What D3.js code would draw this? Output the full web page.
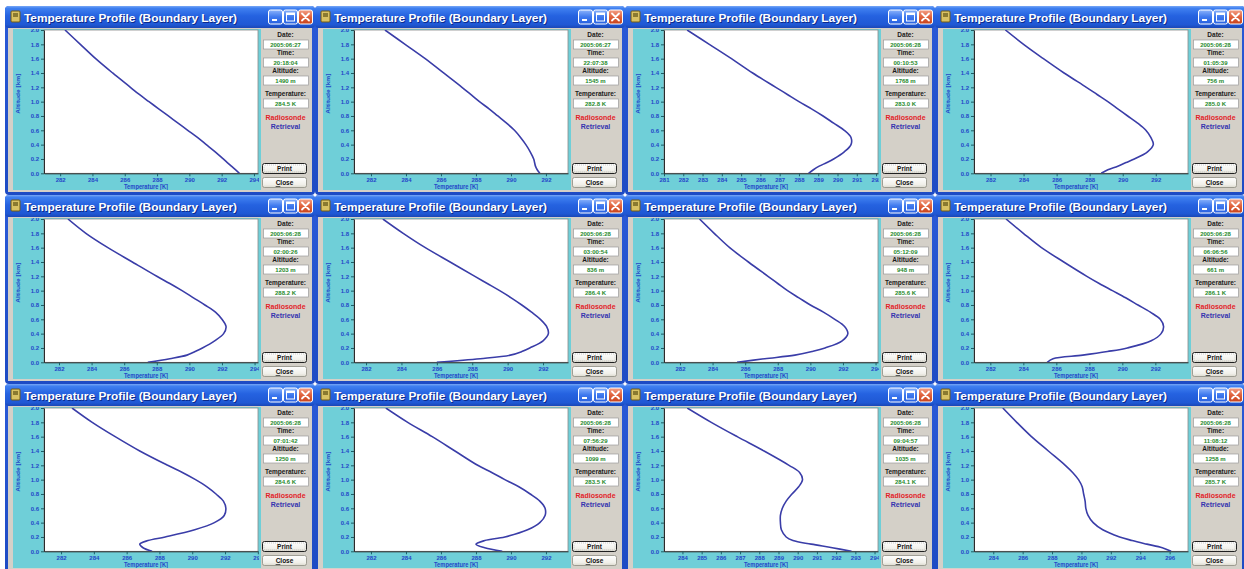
<!DOCTYPE html>
<html>
<head>
<meta charset="utf-8">
<script src="https://cdn.jsdelivr.net/npm/d3@7"></script>
<style>
  html, body { margin: 0; padding: 0; background: #ffffff; overflow: hidden; }
  svg { display: block; }
  text { font-family: "Liberation Sans", Arial, sans-serif; }
</style>
</head>
<body>
<svg id="chart" width="1244" height="569"></svg>
<script>
// Altitude levels (km) at which each retrieved temperature profile is sampled
const altitudeKm = [0, 0.05, 0.1, 0.15, 0.2, 0.3, 0.4, 0.5, 0.6, 0.7, 0.8, 0.9, 1.0, 1.1, 1.2, 1.4, 1.6, 1.8, 2.0];

// Retrieved temperature profiles (K), one per measurement time
const retrieval_0627_2018 = [293.1, 292.85, 292.6, 292.35, 292.1, 291.6, 291.05, 290.5, 289.9, 289.3, 288.7, 288.1, 287.5, 286.9, 286.35, 285.25, 284.2, 283.25, 282.3];
const retrieval_0627_2207 = [291.65, 291.5, 291.4, 291.35, 291.3, 291.1, 290.85, 290.55, 290.2, 289.75, 289.25, 288.75, 288.2, 287.7, 287.2, 286.15, 285.1, 283.95, 282.8];
const retrieval_0628_0010 = [288.5, 288.75, 289.05, 289.45, 289.8, 290.35, 290.7, 290.7, 290.35, 289.8, 289.25, 288.65, 288.0, 287.4, 286.8, 285.6, 284.5, 283.35, 282.2];
const retrieval_0628_0105 = [288.7, 289.1, 289.7, 290.2, 290.7, 291.5, 291.85, 291.7, 291.4, 290.9, 290.3, 289.7, 289.1, 288.45, 287.8, 286.45, 285.2, 284.0, 282.9];
const retrieval_0628_0200 = [287.45, 288.8, 289.85, 290.35, 290.8, 291.55, 292.1, 292.25, 292.0, 291.6, 290.95, 290.25, 289.55, 288.8, 288.0, 286.5, 285.0, 283.65, 282.55];
const retrieval_0628_0300 = [286.0, 288.45, 290.15, 290.8, 291.25, 292.0, 292.3, 292.2, 291.85, 291.35, 290.8, 290.2, 289.55, 288.85, 288.15, 286.75, 285.35, 284.1, 282.95];
const retrieval_0628_0512 = [285.5, 287.2, 289.05, 290.1, 290.9, 291.95, 292.3, 292.1, 291.5, 290.8, 290.0, 289.3, 288.6, 288.0, 287.4, 286.2, 285.05, 284.1, 283.2];
const retrieval_0628_0606 = [285.45, 285.8, 287.6, 289.1, 290.3, 291.75, 292.35, 292.5, 292.3, 291.7, 290.95, 290.2, 289.4, 288.6, 287.85, 286.45, 285.1, 284.0, 282.95];
const retrieval_0628_0701 = [287.55, 287.0, 286.8, 287.3, 288.35, 290.15, 291.35, 291.95, 292.05, 291.9, 291.45, 290.9, 290.2, 289.4, 288.5, 286.8, 285.3, 283.9, 282.67];
const retrieval_0628_0756 = [289.5, 288.5, 288.0, 288.5, 289.65, 290.95, 291.65, 291.95, 291.95, 291.65, 291.1, 290.45, 289.65, 288.9, 288.1, 286.8, 285.5, 284.1, 282.85];
const retrieval_0628_0904 = [292.8, 291.8, 290.7, 289.75, 289.4, 289.15, 289.1, 289.1, 289.2, 289.4, 289.7, 290.05, 290.25, 290.1, 289.55, 288.25, 286.85, 285.5, 284.25];
const retrieval_0628_1108 = [296.1, 295.5, 294.45, 293.45, 292.6, 291.45, 290.8, 290.45, 290.3, 290.25, 290.15, 290.05, 289.8, 289.4, 288.9, 287.75, 286.6, 285.6, 284.65];

// Read-out fields shown beside each plot
const dates = ["2005:06:27", "2005:06:27", "2005:06:28", "2005:06:28",
               "2005:06:28", "2005:06:28", "2005:06:28", "2005:06:28",
               "2005:06:28", "2005:06:28", "2005:06:28", "2005:06:28"];
const times = ["20:18:04", "22:07:38", "00:10:53", "01:05:39",
               "02:00:26", "03:00:54", "05:12:09", "06:06:56",
               "07:01:42", "07:56:29", "09:04:57", "11:08:12"];
const cursorAltitudeM = [1490, 1545, 1768, 756, 1203, 836, 948, 661, 1250, 1099, 1035, 1258];
const cursorTempK = [284.5, 282.8, 283.0, 285.0, 288.2, 286.4, 285.6, 286.1, 284.6, 283.5, 284.1, 285.7];

// Temperature axis range (K) and tick step of each plot
const tempDomains = [[281.0, 294.25], [281.03, 293.26], [281.0, 292.1], [281.0, 293.95],
                     [281.08, 294.21], [281.32, 293.41], [281.02, 294.15], [281.01, 293.98],
                     [280.96, 294.01], [281.03, 293.26], [283.04, 294.18], [282.69, 297.25]];
const tempTickSteps = [2, 2, 1, 2, 2, 2, 2, 2, 2, 2, 1, 2];
const altitudeTicks = [0, 0.2, 0.4, 0.6, 0.8, 1.0, 1.2, 1.4, 1.6, 1.8, 2.0];

const windowTitle = "Temperature Profile (Boundary Layer)";
const profiles = [retrieval_0627_2018, retrieval_0627_2207, retrieval_0628_0010, retrieval_0628_0105,
                  retrieval_0628_0200, retrieval_0628_0300, retrieval_0628_0512, retrieval_0628_0606,
                  retrieval_0628_0701, retrieval_0628_0756, retrieval_0628_0904, retrieval_0628_1108];

// ---- window geometry (relative to each window's top-left corner) ----
const WIN_W = 310, WIN_H = 189, ORIGIN_X = 5, ORIGIN_Y = 6;
const G = {
  titleH: 22,
  panelL: 8, panelR: 256, panelT: 23, panelB: 184,
  plotL: 39, plotR: 253, plotT: 24, plotB: 167.3,
  sideL: 258, sideR: 303
};

const svg = d3.select("#chart");
const defs = svg.append("defs");

function gradient(id, stops) {
  const lg = defs.append("linearGradient").attr("id", id)
    .attr("x1", 0).attr("y1", 0).attr("x2", 0).attr("y2", 1);
  stops.forEach(([o, c]) => lg.append("stop").attr("offset", o).attr("stop-color", c));
}
gradient("titleGrad", [[0, "#79a8f6"], [0.1, "#3f80f0"], [0.45, "#2562e0"], [0.85, "#1f58d4"], [1, "#1a47b6"]]);
gradient("btnGrad", [[0, "#ffffff"], [0.7, "#f1f0ea"], [1, "#dcdacf"]]);
gradient("blueBtnGrad", [[0, "#8bb3fb"], [0.5, "#3d78ee"], [1, "#2b62e0"]]);
gradient("redBtnGrad", [[0, "#f3a38a"], [0.5, "#e0623c"], [1, "#c8431c"]]);
gradient("frameGrad", [[0, "#2a5ad8"], [1, "#1d4bc4"]]);

const line = d3.line().curve(d3.curveCatmullRom.alpha(0.5));

profiles.forEach((temps, i) => {
  const row = Math.floor(i / 4), col = i % 4;
  const g = svg.append("g")
    .attr("transform", `translate(${ORIGIN_X + col * WIN_W},${ORIGIN_Y + row * WIN_H})`);

  // window frame, title bar and client area
  g.append("rect").attr("width", WIN_W).attr("height", WIN_H).attr("rx", 4).attr("fill", "url(#frameGrad)");
  g.append("rect").attr("width", WIN_W).attr("height", G.titleH).attr("rx", 4).attr("fill", "url(#titleGrad)");
  g.append("rect").attr("x", 3).attr("y", G.titleH).attr("width", WIN_W - 6).attr("height", WIN_H - G.titleH - 3)
    .attr("fill", "#d4d0c8");

  // title icon
  g.append("rect").attr("x", 6).attr("y", 5).attr("width", 9).attr("height", 11).attr("rx", 1)
    .attr("fill", "#d9c263").attr("stroke", "#6e5a16").attr("stroke-width", 1);
  g.append("rect").attr("x", 8).attr("y", 7).attr("width", 5).attr("height", 4)
    .attr("fill", "#8a7a30");

  // title text
  g.append("text").attr("x", 20).attr("y", 16.5).attr("fill", "#0b2a8a").attr("font-weight", "bold")
    .attr("font-size", 11.5).attr("textLength", 213).attr("lengthAdjust", "spacingAndGlyphs").text(windowTitle);
  g.append("text").attr("x", 19).attr("y", 15.5).attr("fill", "#ffffff").attr("font-weight", "bold")
    .attr("font-size", 11.5).attr("textLength", 213).attr("lengthAdjust", "spacingAndGlyphs").text(windowTitle);

  // caption buttons
  const capBtn = (x, fill) => g.append("rect").attr("x", x).attr("y", 4).attr("width", 14).attr("height", 14)
    .attr("rx", 2).attr("fill", fill).attr("stroke", "#ffffff").attr("stroke-width", 1);
  capBtn(263.5, "url(#blueBtnGrad)");
  g.append("rect").attr("x", 267).attr("y", 13).attr("width", 5).attr("height", 2).attr("fill", "#ffffff");
  capBtn(278.5, "url(#blueBtnGrad)");
  g.append("rect").attr("x", 281.5).attr("y", 7).attr("width", 8).attr("height", 8)
    .attr("fill", "none").attr("stroke", "#ffffff").attr("stroke-width", 1);
  g.append("rect").attr("x", 281.5).attr("y", 7).attr("width", 8).attr("height", 2).attr("fill", "#ffffff");
  capBtn(293.5, "url(#redBtnGrad)");
  g.append("path").attr("d", "M297,7.5 L304,14.5 M304,7.5 L297,14.5")
    .attr("stroke", "#ffffff").attr("stroke-width", 1.8).attr("stroke-linecap", "round");

  // cyan chart panel
  g.append("rect").attr("x", G.panelL).attr("y", G.panelT)
    .attr("width", G.panelR - G.panelL).attr("height", G.panelB - G.panelT).attr("fill", "#6fcfd8");

  const panelClip = `panelClip${i}`, plotClip = `plotClip${i}`, xLabelClip = `xLabelClip${i}`;
  defs.append("clipPath").attr("id", panelClip).append("rect")
    .attr("x", G.panelL).attr("y", G.panelT).attr("width", G.panelR - G.panelL).attr("height", G.panelB - G.panelT);
  defs.append("clipPath").attr("id", plotClip).append("rect")
    .attr("x", G.plotL).attr("y", G.plotT).attr("width", G.plotR - G.plotL).attr("height", G.plotB - G.plotT);
  defs.append("clipPath").attr("id", xLabelClip).append("rect")
    .attr("x", G.panelL).attr("y", G.panelT).attr("width", G.plotR + 1 - G.panelL).attr("height", G.panelB - G.panelT);

  const chart = g.append("g").attr("clip-path", `url(#${panelClip})`);

  // white plotting area
  chart.append("rect").attr("x", G.plotL).attr("y", G.plotT)
    .attr("width", G.plotR - G.plotL).attr("height", G.plotB - G.plotT)
    .attr("fill", "#ffffff").attr("stroke", "#8a8a8a").attr("stroke-width", 0.8);

  const x = d3.scaleLinear().domain(tempDomains[i]).range([G.plotL, G.plotR]);
  const y = d3.scaleLinear().domain([0, 2]).range([G.plotB, G.plotT]);

  const step = tempTickSteps[i];
  const [lo, hi] = tempDomains[i];
  const xTicks = d3.range(Math.ceil(lo / step - 1e-9) * step, hi + 1e-9, step);

  const xAxis = chart.append("g").attr("clip-path", `url(#${xLabelClip})`)
    .append("g").attr("transform", `translate(0,${G.plotB})`)
    .call(d3.axisBottom(x).tickValues(xTicks).tickFormat(d3.format("d"))
      .tickSize(3).tickPadding(1.5).tickSizeOuter(0));
  const yAxis = chart.append("g").attr("transform", `translate(${G.plotL},0)`)
    .call(d3.axisLeft(y).tickValues(altitudeTicks).tickFormat(d3.format(".1f"))
      .tickSize(3).tickPadding(2).tickSizeOuter(0));

  [xAxis, yAxis].forEach(ax => {
    ax.select(".domain").attr("stroke", "#2b2b2b").attr("stroke-width", 1);
    ax.selectAll(".tick line").attr("stroke", "#1e5d66").attr("stroke-width", 1);
    ax.selectAll(".tick text").attr("fill", "#2447c8").attr("font-weight", "bold")
      .attr("font-size", 6).attr("font-family", "'Liberation Sans', Arial, sans-serif");
  });

  // axis titles
  chart.append("text").attr("x", (G.plotL + G.plotR) / 2 - 5).attr("y", 182.5)
    .attr("text-anchor", "middle").attr("fill", "#2447c8").attr("font-weight", "bold")
    .attr("font-size", 6.5).attr("textLength", 44).attr("lengthAdjust", "spacingAndGlyphs")
    .text("Temperature [K]");
  chart.append("text").attr("transform", `translate(14.5,${(G.plotT + G.plotB) / 2 - 8}) rotate(-90)`)
    .attr("text-anchor", "middle").attr("fill", "#2447c8").attr("font-weight", "bold")
    .attr("font-size", 6.2).attr("textLength", 40).attr("lengthAdjust", "spacingAndGlyphs")
    .text("Altitude [km]");

  // retrieved profile
  const pts = altitudeKm.map((a, k) => [x(temps[k]), y(a)]);
  g.append("path").attr("clip-path", `url(#${plotClip})`)
    .attr("d", line(pts)).attr("fill", "none")
    .attr("stroke", "#3a3da8").attr("stroke-width", 1.6).attr("stroke-linejoin", "round");

  // read-out side panel
  const cx = (G.sideL + G.sideR) / 2;
  const label = (txt, yy) => g.append("text").attr("x", cx).attr("y", yy).attr("text-anchor", "middle")
    .attr("fill", "#1a1a1a").attr("font-weight", "bold").attr("font-size", 6.5).text(txt);
  const field = (txt, yy) => {
    g.append("rect").attr("x", G.sideL + 0.5).attr("y", yy).attr("width", G.sideR - G.sideL).attr("height", 9)
      .attr("fill", "#ffffff").attr("stroke", "#9a9a9a").attr("stroke-width", 0.7);
    g.append("text").attr("x", cx).attr("y", yy + 6.6).attr("text-anchor", "middle")
      .attr("fill", "#1f8a2c").attr("font-weight", "bold").attr("font-size", 6).text(txt);
  };
  label("Date:", 30.5);
  field(dates[i], 34);
  label("Time:", 48.5);
  field(times[i], 52);
  label("Altitude:", 66.5);
  field(`${cursorAltitudeM[i]} m`, 70);
  label("Temperature:", 89.5);
  field(`${cursorTempK[i].toFixed(1)} K`, 93);

  g.append("text").attr("x", cx).attr("y", 113.5).attr("text-anchor", "middle")
    .attr("fill", "#e3232a").attr("font-weight", "bold").attr("font-size", 7).text("Radiosonde");
  g.append("text").attr("x", cx).attr("y", 122.5).attr("text-anchor", "middle")
    .attr("fill", "#3434b0").attr("font-weight", "bold").attr("font-size", 7).text("Retrieval");

  // push buttons
  g.append("rect").attr("x", 257.5).attr("y", 157.5).attr("width", 44).attr("height", 10).attr("rx", 2)
    .attr("fill", "url(#btnGrad)").attr("stroke", "#202020").attr("stroke-width", 1);
  g.append("rect").attr("x", 259).attr("y", 159).attr("width", 41).attr("height", 7).attr("rx", 1)
    .attr("fill", "none").attr("stroke", "#9a9a9a").attr("stroke-width", 0.5).attr("stroke-dasharray", "1,1");
  g.append("text").attr("x", 279.5).attr("y", 165).attr("text-anchor", "middle")
    .attr("fill", "#111").attr("font-weight", "bold").attr("font-size", 6.5).text("Print");

  g.append("rect").attr("x", 257.5).attr("y", 171.5).attr("width", 44).attr("height", 10).attr("rx", 2)
    .attr("fill", "url(#btnGrad)").attr("stroke", "#8d8b80").attr("stroke-width", 0.8);
  const closeTxt = g.append("text").attr("x", 279.5).attr("y", 179).attr("text-anchor", "middle")
    .attr("fill", "#111").attr("font-weight", "bold").attr("font-size", 6.5);
  closeTxt.append("tspan").attr("text-decoration", "underline").text("C");
  closeTxt.append("tspan").text("lose");
});
</script>
</body>
</html>
